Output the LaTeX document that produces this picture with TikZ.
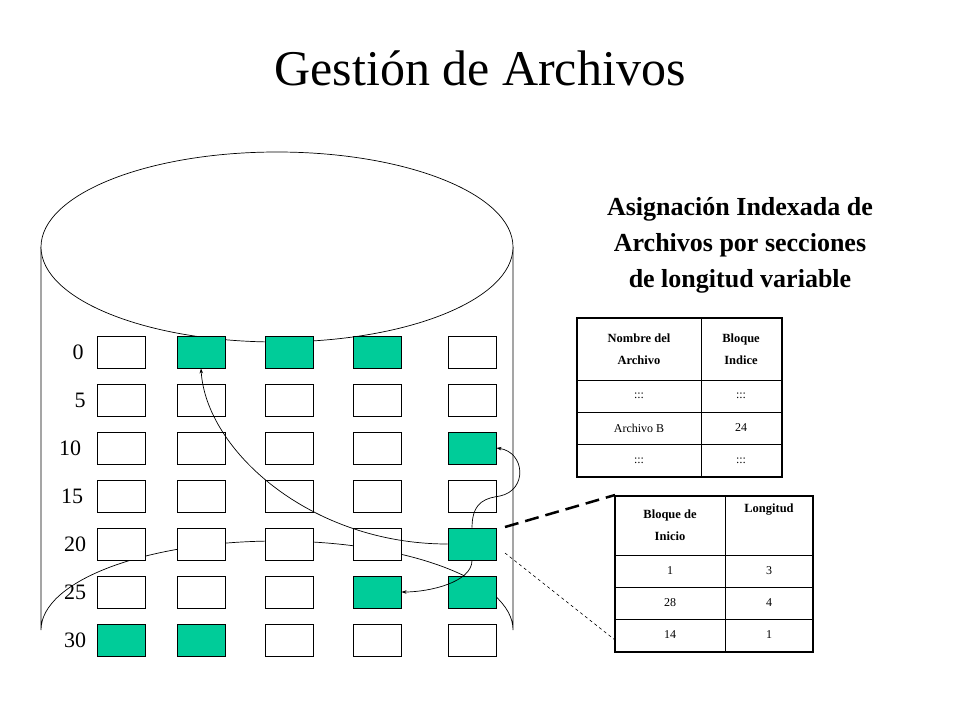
\documentclass[tikz,border=0pt]{standalone}
\usepackage{fontspec}
\setmainfont{Liberation Serif}
\usetikzlibrary{arrows.meta}
\definecolor{grn}{HTML}{00CC99}
\begin{document}
\begin{tikzpicture}[x=1pt,y=-1pt,
  blk/.style={draw,line width=0.9pt,minimum width=48pt,minimum height=32pt,inner sep=0pt,fill=white},
  gblk/.style={blk,fill=grn},
  lab/.style={font=\fontsize{22}{22}\selectfont},
  link/.style={line width=0.7pt,-{Stealth[length=5pt,width=3.5pt]}},
  cell/.style={font=\fontsize{12}{14}\selectfont,align=center},
  hcell/.style={font=\bfseries\fontsize{12.5}{22}\selectfont,align=center}]
\useasboundingbox (0,0) rectangle (960,720);
\node[font=\fontsize{50}{50}\selectfont] (title) at (480,68) {Gestión de Archivos};
% cylinder
\draw[line width=0.7pt] (41,247) -- (41,630) arc[start angle=180,end angle=360,x radius=236,y radius=89] -- (513,247);
\draw[line width=0.7pt,fill=white] (277,247) ellipse[x radius=236,y radius=95];
% blocks
\foreach \r/\yy/\lbl/\lx in {0/352/0/78,1/400/5/80,2/448/10/70,3/496/15/72,4/544/20/75,5/592/25/75,6/640/30/75}{
  \node[lab] (l\r) at (\lx,\yy) {\lbl};
  \foreach \c/\xx in {0/121,1/201,2/289,3/377,4/472}{
    \node[blk] (b\r\c) at (\xx,\yy) {};
  }
}
\foreach \r/\c in {0/1,0/2,0/3,2/4,4/4,5/3,5/4,6/0,6/1}{
  \node[gblk] at (b\r\c) {};
}
% links
\draw[link] (b44.west) .. controls (310,544) and (206,450) .. (b01.south);
\draw[link] (b44.north) .. controls (472,500) and (488,498) .. (500,496) .. controls (528,490) and (525,452) .. (b24.east);
\draw[link] (b44.south) .. controls (472,582) and (430,592) .. (b53.east);
% subtitle
\node[font=\bfseries\fontsize{26}{36}\selectfont,align=center] (sub) at (740,245) {Asignación Indexada de\\Archivos por secciones\\de longitud variable};
% table 1
\draw[line width=2.5pt] (577,318) rectangle (782,477);
\draw[line width=0.8pt] (701,318) -- (701,477);
\foreach \y in {380,412,444}{\draw[line width=0.8pt] (577,\y) -- (782,\y);}
\node[hcell] (t1a) at (639,349) {Nombre del\\Archivo};
\node[hcell] (t1b) at (741,349) {Bloque\\Indice};
\node[cell] (t1c) at (639,396) {:::};
\node[cell] (t1d) at (741,396) {:::};
\node[cell] (t1e) at (639,428) {Archivo B};
\node[cell] (t1f) at (741,428) {24};
\node[cell] (t1g) at (639,461) {:::};
\node[cell] (t1h) at (741,461) {:::};
% table 2
\draw[line width=2.5pt] (615,496) rectangle (813,652);
\draw[line width=0.8pt] (725,496) -- (725,652);
\foreach \y in {555,587,619}{\draw[line width=0.8pt] (615,\y) -- (813,\y);}
\node[hcell] (t2a) at (670,525) {Bloque de\\Inicio};
\node[hcell,anchor=north] (t2b) at (769,500) {Longitud};
\node[cell] (t2c) at (670,571) {1};
\node[cell] (t2d) at (769,571) {3};
\node[cell] (t2e) at (670,603) {28};
\node[cell] (t2f) at (769,603) {4};
\node[cell] (t2g) at (670,635) {14};
\node[cell] (t2h) at (769,635) {1};
\coordinate (d1) at (505,527);
\coordinate (d2) at (505,553);
\coordinate (e1) at (615,495);
\coordinate (e2) at (615,640);
\draw[line width=2.5pt,dash pattern=on 14pt off 7pt] (d1) -- (e1);
\draw[line width=0.6pt,dashed] (d2) -- (e2);
\end{tikzpicture}
\end{document}
